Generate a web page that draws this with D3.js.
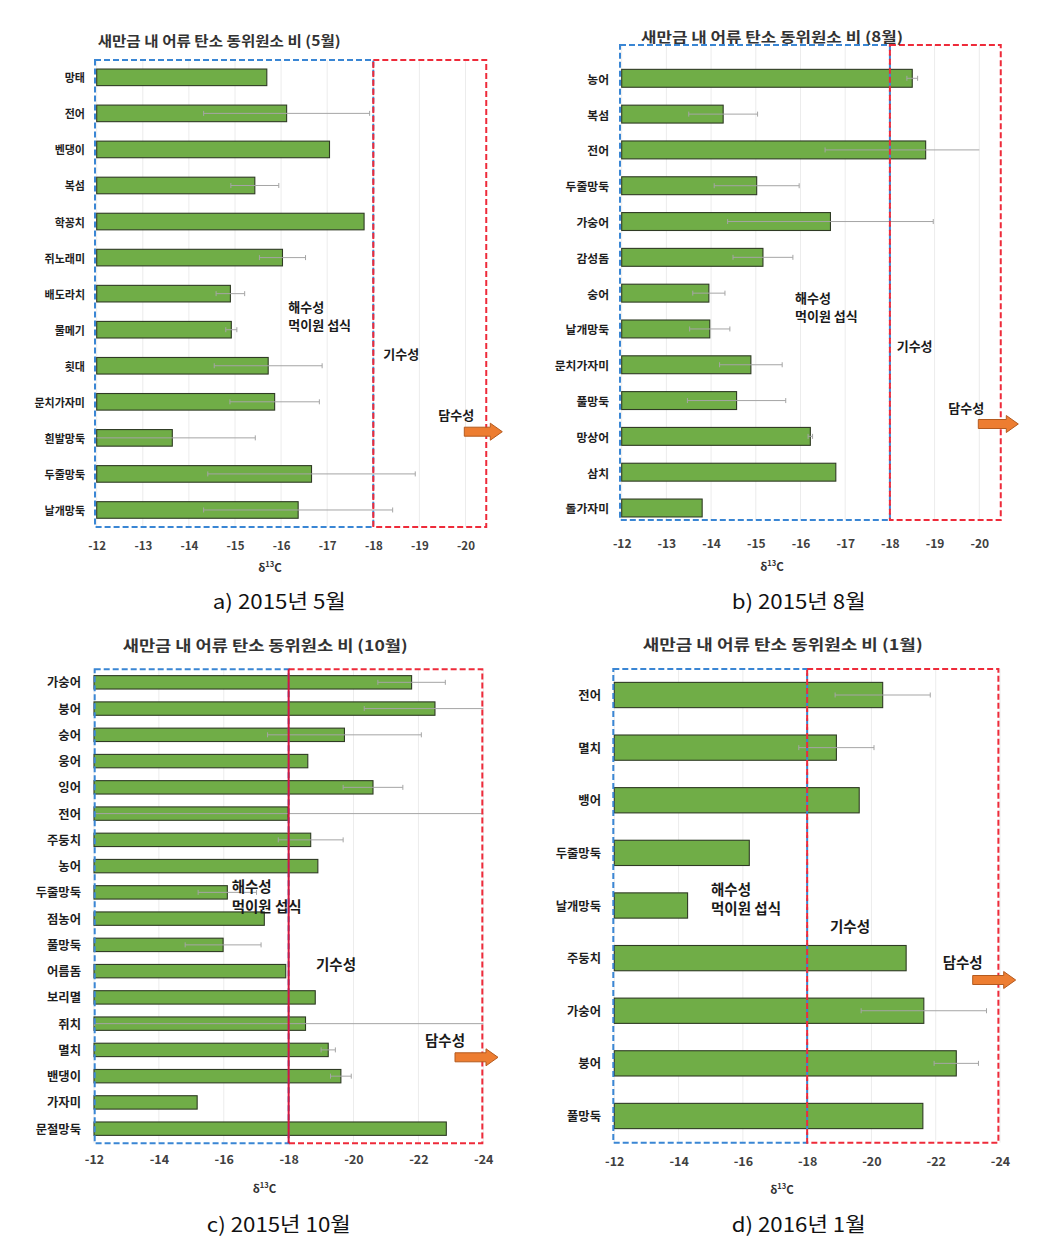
<!DOCTYPE html>
<html><head><meta charset="utf-8">
<script src="https://cdn.jsdelivr.net/npm/d3@7"></script>
<style>
html,body{margin:0;padding:0;background:#fff;}
svg{display:block;font-family:'Noto Sans CJK KR','Noto Sans',sans-serif;}
</style></head>
<body>
<svg id="chart" width="1062" height="1246"></svg>
<script>
// ---------- DATA ----------
const titleA = "새만금 내 어류 탄소 동위원소 비 (5월)";
const catsA = ["망태","전어","벤댕이","복섬","학꽁치","쥐노래미","배도라치","물메기","횟대","문치가자미","흰발망둑","두줄망둑","날개망둑"];
const valsA = [-15.69,-16.12,-17.05,-15.43,-17.80,-16.03,-14.90,-14.92,-15.72,-15.86,-13.64,-16.66,-16.37];
const errA  = [0,1.80,0,0.52,0,0.50,0.31,0.12,1.17,0.97,1.80,2.25,2.05];
const ticksA = [-12,-13,-14,-15,-16,-17,-18,-19,-20];
const captionA = "a) 2015년 5월";

const titleB = "새만금 내 어류 탄소 동위원소 비 (8월)";
const catsB = ["농어","복섬","전어","두줄망둑","가숭어","감성돔","숭어","날개망둑","문치가자미","풀망둑","망상어","삼치","돌가자미"];
const valsB = [-18.50,-14.27,-18.80,-15.02,-16.67,-15.16,-13.95,-13.97,-14.89,-14.57,-16.22,-16.79,-13.80];
const errB  = [0.12,0.77,2.25,0.95,2.30,0.67,0.36,0.45,0.70,1.10,0.05,0,0];
const ticksB = [-12,-13,-14,-15,-16,-17,-18,-19,-20];
const captionB = "b) 2015년 8월";

const titleC = "새만금 내 어류 탄소 동위원소 비 (10월)";
const catsC = ["가숭어","붕어","숭어","웅어","잉어","전어","주둥치","농어","두줄망둑","점농어","풀망둑","어름돔","보리멸","쥐치","멸치","밴댕이","가자미","문절망둑"];
const valsC = [-21.79,-22.51,-19.72,-18.59,-20.60,-17.98,-18.68,-18.90,-16.11,-17.25,-15.98,-17.91,-18.82,-18.52,-19.22,-19.61,-15.18,-22.86];
const errC  = [1.04,2.18,2.37,0,0.92,6.5,1.00,0,0.90,0,1.17,0,0,6.5,0.22,0.32,0,0];
const ticksC = [-12,-14,-16,-18,-20,-22,-24];
const captionC = "c) 2015년 10월";

const titleD = "새만금 내 어류 탄소 동위원소 비 (1월)";
const catsD = ["전어","멸치","뱅어","두줄망둑","날개망둑","주둥치","가숭어","붕어","풀망둑"];
const valsD = [-20.35,-18.91,-19.62,-16.20,-14.28,-21.08,-21.63,-22.64,-21.60];
const errD  = [1.48,1.17,0,0,0,0,1.95,0.69,0];
const ticksD = [-12,-14,-16,-18,-20,-22,-24];
const captionD = "d) 2016년 1월";

const annSea = "해수성", annFood = "먹이원 섭식", annBrackish = "기수성", annFresh = "담수성";
const axisLabel = {base:"δ", sup:"13", tail:"C"};

// ---------- LAYOUT ----------
const panels = [
 {title:titleA, cats:catsA, vals:valsA, errs:errA, ticks:ticksA, caption:captionA,
  r:[96.7,465.5], dom:[-12,-20], band:[59.3,528], pad:0.54,
  box:{top:60, bot:527, left:95, redEnd:-20.45}, solidMid:false,
  labelX:85, labelSize:11, tickY:545.7, tickSize:11.5,
  tX:97.7, tW:243, tY:40, tSize:14,
  dX:270, dY:567, capX:279.3, capW:133, capY:600,
  annSize:13, sea:[288.3,306], food:[288.3,324], brack:[383.3,353.3], fresh:[438.3,414], arrow:[464.3,431.7,38]},
 {title:titleB, cats:catsB, vals:valsB, errs:errB, ticks:ticksB, caption:captionB,
  r:[621.7,979.3], dom:[-12,-20], band:[60.4,525.9], pad:0.5,
  box:{top:45, bot:520, left:620, redEnd:-20.48}, solidMid:false,
  labelX:609, labelSize:11.8, tickY:544, tickSize:12,
  tX:641, tW:262, tY:36, tSize:14,
  dX:772, dY:566, capX:798.7, capW:134, capY:600,
  annSize:13, sea:[795,297], food:[795,315.5], brack:[896.7,345], fresh:[948.3,407.3], arrow:[978.3,424,40]},
 {title:titleC, cats:catsC, vals:valsC, errs:errC, ticks:ticksC, caption:captionC,
  r:[94,483.3], dom:[-12,-24], band:[669.2,1141.8], pad:0.49,
  box:{top:669.3, bot:1143.3, left:94.7, redEnd:-23.97}, solidMid:true,
  labelX:81, labelSize:12.3, tickY:1160, tickSize:12.5,
  tX:122.7, tW:285, tY:644, tSize:15,
  dX:264.5, dY:1187.7, capX:278.8, capW:144, capY:1223,
  annSize:14.5, sea:[231.7,885.5], food:[231.7,905.5], brack:[316,963.3], fresh:[425,1039.3], arrow:[455,1057.3,43]},
 {title:titleD, cats:catsD, vals:valsD, errs:errD, ticks:ticksD, caption:captionD,
  r:[614.3,1000], dom:[-12,-24], band:[668.7,1142.3], pad:0.52,
  box:{top:669, bot:1142.7, left:613.3, redEnd:-23.95}, solidMid:false,
  labelX:601, labelSize:12.3, tickY:1161.7, tickSize:12.5,
  tX:642.7, tW:280, tY:643.3, tSize:15,
  dX:782, dY:1189.3, capX:798.7, capW:134, capY:1223,
  annSize:14.5, sea:[711,888], food:[711,907.5], brack:[830,925], fresh:[942.7,961.7], arrow:[972.7,980,43]}
];

const svg = d3.select('#chart');
svg.append('rect').attr('width',1062).attr('height',1246).attr('fill','#fff');

panels.forEach(p => {
  const g = svg.append('g');
  const x = d3.scaleLinear().domain(p.dom).range(p.r);
  const xc = x.copy().clamp(true);
  const y = d3.scaleBand().domain(p.cats).range(p.band).paddingInner(p.pad).paddingOuter(p.pad/2);
  const data = p.cats.map((c,i)=>({c, v:p.vals[i], e:p.errs[i]}));

  // gridlines
  g.append('g').selectAll('line').data(p.ticks).join('line')
    .attr('x1',d=>x(d)).attr('x2',d=>x(d))
    .attr('y1',p.box.top).attr('y2',p.box.bot)
    .attr('stroke','#ececec').attr('stroke-width',1);

  // bars
  g.append('g').selectAll('rect').data(data).join('rect')
    .attr('x',x(-12)).attr('y',d=>y(d.c))
    .attr('width',d=>x(d.v)-x(-12)).attr('height',y.bandwidth())
    .attr('fill','#70AD47').attr('stroke','#2f3b24').attr('stroke-width',1.1);

  // error bars
  const eb = g.append('g').selectAll('g').data(data.filter(d=>d.e>0)).join('g')
    .attr('stroke','#a5a5a5').attr('stroke-width',1);
  eb.append('line')
    .attr('x1',d=>xc(d.v+d.e)).attr('x2',d=>xc(d.v-d.e))
    .attr('y1',d=>y(d.c)+y.bandwidth()/2).attr('y2',d=>y(d.c)+y.bandwidth()/2);
  eb.filter(d=>d.v+d.e < -12).append('line')
    .attr('x1',d=>xc(d.v+d.e)).attr('x2',d=>xc(d.v+d.e))
    .attr('y1',d=>y(d.c)+y.bandwidth()/2-2.5).attr('y2',d=>y(d.c)+y.bandwidth()/2+2.5);
  eb.filter(d=>d.v-d.e > p.dom[1]).append('line')
    .attr('x1',d=>xc(d.v-d.e)).attr('x2',d=>xc(d.v-d.e))
    .attr('y1',d=>y(d.c)+y.bandwidth()/2-2.5).attr('y2',d=>y(d.c)+y.bandwidth()/2+2.5);

  // boxes
  const bx = p.box;
  g.append('rect').attr('x',bx.left).attr('y',bx.top)
    .attr('width',x(-18)-bx.left).attr('height',bx.bot-bx.top)
    .attr('fill','none').attr('stroke','#3a86d4').attr('stroke-width',2).attr('stroke-dasharray','6,3');
  if (p.solidMid) {
    g.append('path')
      .attr('d',`M${x(-18)},${bx.top}H${x(bx.redEnd)}V${bx.bot}H${x(-18)}`)
      .attr('fill','none').attr('stroke','#ee2b3a').attr('stroke-width',2).attr('stroke-dasharray','6,3');
    g.append('line').attr('x1',x(-18)).attr('x2',x(-18)).attr('y1',bx.top).attr('y2',bx.bot)
      .attr('stroke','#d4163e').attr('stroke-width',2);
  } else {
    g.append('rect').attr('x',x(-18)).attr('y',bx.top)
      .attr('width',x(bx.redEnd)-x(-18)).attr('height',bx.bot-bx.top)
      .attr('fill','none').attr('stroke','#ee2b3a').attr('stroke-width',2).attr('stroke-dasharray','6,3');
  }

  // category labels
  g.append('g').selectAll('text').data(data).join('text')
    .attr('x',p.labelX).attr('y',d=>y(d.c)+y.bandwidth()/2)
    .attr('text-anchor','end').attr('dominant-baseline','central')
    .attr('font-size',p.labelSize).attr('font-weight',700).attr('fill','#1e1e1e')
    .text(d=>d.c);

  // x axis tick labels
  const ax = g.append('g').attr('transform',`translate(0,${p.tickY})`)
    .call(d3.axisBottom(x).tickValues(p.ticks).tickSize(0).tickPadding(0).tickFormat(d=>String(d)));
  ax.select('.domain').remove();
  ax.selectAll('text').attr('y',0).attr('dy','0.35em')
    .attr('font-size',p.tickSize).attr('font-weight',700).attr('fill','#404040')
    .attr('font-family',"'Noto Sans CJK KR','Noto Sans',sans-serif");

  // axis title δ13C
  const at = g.append('text').attr('x',p.dX).attr('y',p.dY).attr('text-anchor','middle')
    .attr('dominant-baseline','central').attr('font-size',11.5).attr('font-weight',700).attr('fill','#333');
  at.append('tspan').text(axisLabel.base);
  at.append('tspan').attr('font-size',7.5).attr('dy',-4).text(axisLabel.sup);
  at.append('tspan').attr('dy',4).text(axisLabel.tail);

  // title
  g.append('text').attr('x',p.tX).attr('y',p.tY).attr('dominant-baseline','central')
    .attr('font-size',p.tSize).attr('font-weight',700).attr('fill','#333')
    .attr('textLength',p.tW).attr('lengthAdjust','spacingAndGlyphs').text(p.title);

  // caption
  g.append('text').attr('x',p.capX - p.capW/2).attr('y',p.capY).attr('dominant-baseline','central')
    .attr('font-size',20).attr('font-weight',400).attr('fill','#111')
    .attr('textLength',p.capW).attr('lengthAdjust','spacingAndGlyphs').text(p.caption);

  // annotations
  const ann = [[annSea,p.sea],[annFood,p.food],[annBrackish,p.brack],[annFresh,p.fresh]];
  g.append('g').selectAll('text').data(ann).join('text')
    .attr('x',d=>d[1][0]).attr('y',d=>d[1][1]).attr('dominant-baseline','central')
    .attr('font-size',p.annSize).attr('font-weight',700).attr('fill','#1a1a1a')
    .text(d=>d[0]);

  // arrow
  const [ax0, acy, L] = p.arrow;
  const hx = ax0 + L - 12;
  g.append('path')
    .attr('d',`M${ax0},${acy-4.5}L${hx},${acy-4.5}L${hx},${acy-8.5}L${ax0+L},${acy}L${hx},${acy+8.5}L${hx},${acy+4.5}L${ax0},${acy+4.5}Z`)
    .attr('fill','#ED7D31').attr('stroke','#b45a1e').attr('stroke-width',1);
});
</script>
</body></html>
